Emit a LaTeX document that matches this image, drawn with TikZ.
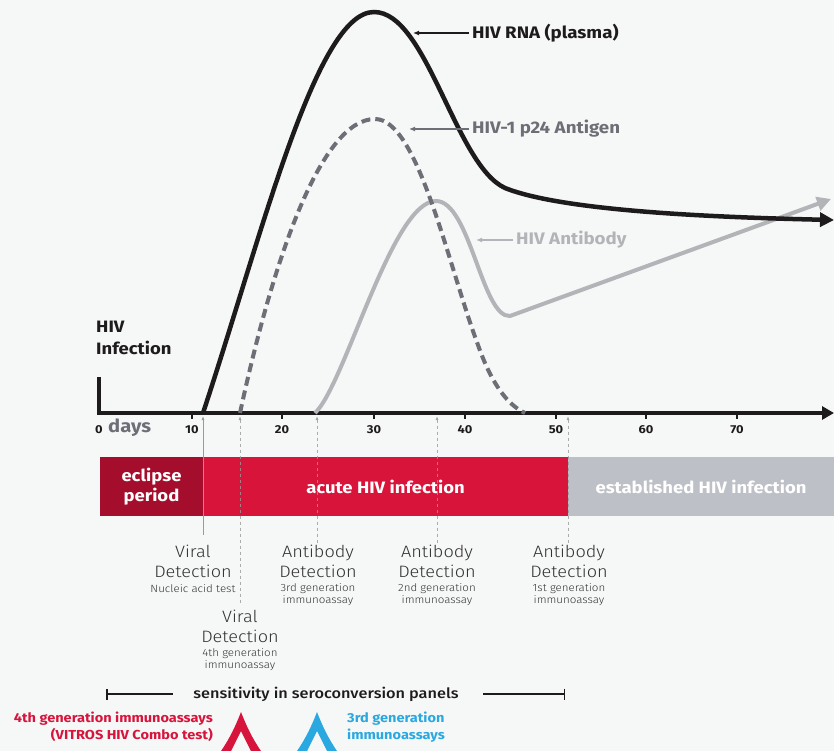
\documentclass[tikz,border=0pt]{standalone}
\usepackage{fontspec}
\setmainfont{Fira Sans}[FakeStretch=1.12]
\newfontfamily\lightfont{Fira Sans Light}[FakeStretch=1.1]
\newfontfamily\medfont{Fira Sans Medium}[FakeStretch=1.14]
\usetikzlibrary{arrows.meta}
\definecolor{bg}{HTML}{F6F7F7}
\definecolor{rnacol}{HTML}{1E1B1C}
\definecolor{agcol}{HTML}{6D6E76}
\definecolor{abcol}{HTML}{B3B4B8}
\definecolor{eclcol}{HTML}{A50D2C}
\definecolor{acucol}{HTML}{D8143B}
\definecolor{estcol}{HTML}{BDC0C6}
\definecolor{redtxt}{HTML}{D7143C}
\definecolor{bluetxt}{HTML}{2AA8E0}
\definecolor{txtcol}{HTML}{333333}
\definecolor{vlcol}{HTML}{9A9A9A}
\tikzset{
  ticklab/.style={font=\bfseries\fontsize{11.5}{13}\selectfont, text=rnacol, inner sep=0pt},
  bar/.style={minimum height=59pt, inner sep=0pt, text=white, align=center,
              font=\bfseries\fontsize{16.5}{20}\selectfont},
  bigtxt/.style={font=\lightfont\fontsize{16.5}{20}\selectfont, text=txtcol, align=center, inner sep=0pt},
  smalltxt/.style={font=\lightfont\fontsize{10.5}{12}\selectfont, text=txtcol, align=center, inner sep=0pt},
  curvelabel/.style={anchor=west, inner sep=0pt, font=\bfseries\fontsize{16.7}{18}\selectfont},
  vsolid/.style={draw=vlcol, line width=0.8pt, {Latex[length=4pt,width=3pt]}-},
  vdash/.style={draw=vlcol, line width=0.8pt, dash pattern=on 3pt off 3pt, {Latex[length=4pt,width=3pt]}-}
}
\begin{document}
\begin{tikzpicture}[x=1pt,y=-1pt]
\fill[bg] (0,0) rectangle (834,751);
\useasboundingbox (0,0) rectangle (834,751);

% bars
\node[bar, fill=eclcol, minimum width=103pt] (ecl) at (151.5,486.5) {eclipse\\period};
\node[bar, fill=acucol, minimum width=365pt] (acu) at (385.5,486.5) {acute HIV infection};
\node[bar, fill=estcol, minimum width=266pt] (est) at (701,486.5) {established HIV infection};

% vertical detection lines
\coordinate (v1t) at (203,416); \coordinate (v1b) at (203,535);
\coordinate (v2t) at (240,416); \coordinate (v2b) at (240,605);
\coordinate (v3t) at (317,416); \coordinate (v3b) at (317,543);
\coordinate (v4t) at (437,416); \coordinate (v4b) at (437,543);
\coordinate (v5t) at (568,416); \coordinate (v5b) at (568,543);
\draw[vsolid] (v1t) -- (v1b);
\draw[vdash, opacity=0.8] (v2t) -- (v2b);
\draw[vdash, opacity=0.8] (v3t) -- (v3b);
\draw[vdash, opacity=0.8] (v4t) -- (v4b);
\draw[vdash, opacity=0.8] (v5t) -- (v5b);

% axis
\coordinate (o) at (99,413);
\coordinate (otop) at (99,377);
\coordinate (axend) at (834,413);
\draw[rnacol, line width=4pt] (otop) -- (o);
\foreach \x/\n in {192/10,282/20,374/30,465/40,556/50,646/60,737/70}{
  \draw[rnacol, line width=1.2pt] (\x,413) -- (\x,419);
  \node[ticklab] (tick\n) at (\x,430) {\n};
}
\node[ticklab] (tick0) at (99,430) {0};
\draw[rnacol, line width=4pt, -{Triangle[length=12pt,width=13pt]}] (97,413) -- (axend);
\node[anchor=west, inner sep=0pt, text=agcol, font=\bfseries\fontsize{18}{20}\selectfont] (days) at (108,428) {days};

\node[anchor=west, inner sep=0pt, align=left, text=rnacol, font=\bfseries\fontsize{16.5}{22}\selectfont] (hivinf) at (96,338) {HIV\\Infection};

% HIV antibody curve
\coordinate (abend) at (831,199);
\draw[abcol, line width=4pt, line join=round, -{Triangle[length=14pt,width=14pt]}]
  (315,413) .. controls (345,385) and (392,201) .. (436,201)
  .. controls (470,201) and (482,318) .. (510,316) -- (abend);

% p24 antigen dashed curve
\draw[agcol, line width=4pt, dash pattern=on 9pt off 5pt]
  (240,413) .. controls (274,255) and (322,119) .. (375,119)
  .. controls (418,119) and (448,265) .. (478,345)
  .. controls (492,385) and (508,405) .. (525,413);

% HIV RNA curve
\coordinate (rnaend) at (834,220);
\draw[rnacol, line width=4.5pt, -{Triangle[length=14pt,width=14pt]}]
  (203,413) .. controls (262,235) and (316,12) .. (374,12)
  .. controls (427,12) and (455,165) .. (505,188)
  .. controls (560,210) and (700,217) .. (rnaend);

% curve labels
\node[curvelabel, text=rnacol] (lrna) at (472,33) {HIV RNA (plasma)};
\coordinate (prna) at (413,33);
\draw[rnacol, line width=1.3pt, -{Latex[length=6pt,width=5pt]}] ([xshift=-3pt]lrna.west) -- (prna);
\node[curvelabel, text=agcol] (lag) at (472,129) {HIV-1 p24 Antigen};
\coordinate (pag) at (409,129);
\draw[agcol, line width=1.3pt, -{Latex[length=6pt,width=5pt]}] ([xshift=-3pt]lag.west) -- (pag);
\node[curvelabel, text=abcol] (lab) at (516,240) {HIV Antibody};
\coordinate (pab) at (476,240);
\draw[abcol, line width=1.3pt, -{Latex[length=6pt,width=5pt]}] ([xshift=-3pt]lab.west) -- (pab);

% detection labels
\node[bigtxt] (vd1) at (193,561) {Viral\\Detection};
\node[smalltxt] (vd1s) at (193,589) {Nucleic acid test};
\node[bigtxt] (ad3) at (318,561) {Antibody\\Detection};
\node[smalltxt] (ad3s) at (318,595) {3rd generation\\immunoassay};
\node[bigtxt] (ad2) at (437,561) {Antibody\\Detection};
\node[smalltxt] (ad2s) at (437,595) {2nd generation\\immunoassay};
\node[bigtxt] (ad1) at (569,561) {Antibody\\Detection};
\node[smalltxt] (ad1s) at (569,595) {1st generation\\immunoassay};
\node[bigtxt] (vd4) at (240,626) {Viral\\Detection};
\node[smalltxt] (vd4s) at (240,660) {4th generation\\immunoassay};

% sensitivity bracket
\node[inner sep=0pt, text=rnacol, font=\medfont\fontsize{14.3}{17}\selectfont] (sens) at (326,694) {sensitivity in seroconversion panels};
\coordinate (sl) at (106,694);
\coordinate (sr) at (565,694);
\draw[rnacol, line width=1.5pt, {Bar[width=11pt]}-] (sl) -- ([xshift=-20pt]sens.west);
\draw[rnacol, line width=1.5pt, -{Bar[width=11pt]}] ([xshift=24pt]sens.east) -- (sr);

% bottom labels
\node[anchor=east, align=right, inner sep=0pt, text=redtxt, font=\bfseries\fontsize{13}{17}\selectfont] (l4) at (213,727) {4th generation immunoassays\\(VITROS HIV Combo test)};
\node[anchor=west, align=left, inner sep=0pt, text=bluetxt, font=\bfseries\fontsize{13}{17}\selectfont] (l3) at (347,727) {3rd generation\\immunoassays};

% chevrons
\fill[redtxt] (241,712) .. controls (246,725) and (252,738) .. (261,751) -- (251,751) -- (241,731) -- (231,751) -- (221,751) .. controls (230,738) and (236,725) .. cycle;
\fill[bluetxt] (317,712) .. controls (322,725) and (328,738) .. (337,751) -- (327,751) -- (317,731) -- (307,751) -- (297,751) .. controls (306,738) and (312,725) .. cycle;
\end{tikzpicture}
\end{document}
